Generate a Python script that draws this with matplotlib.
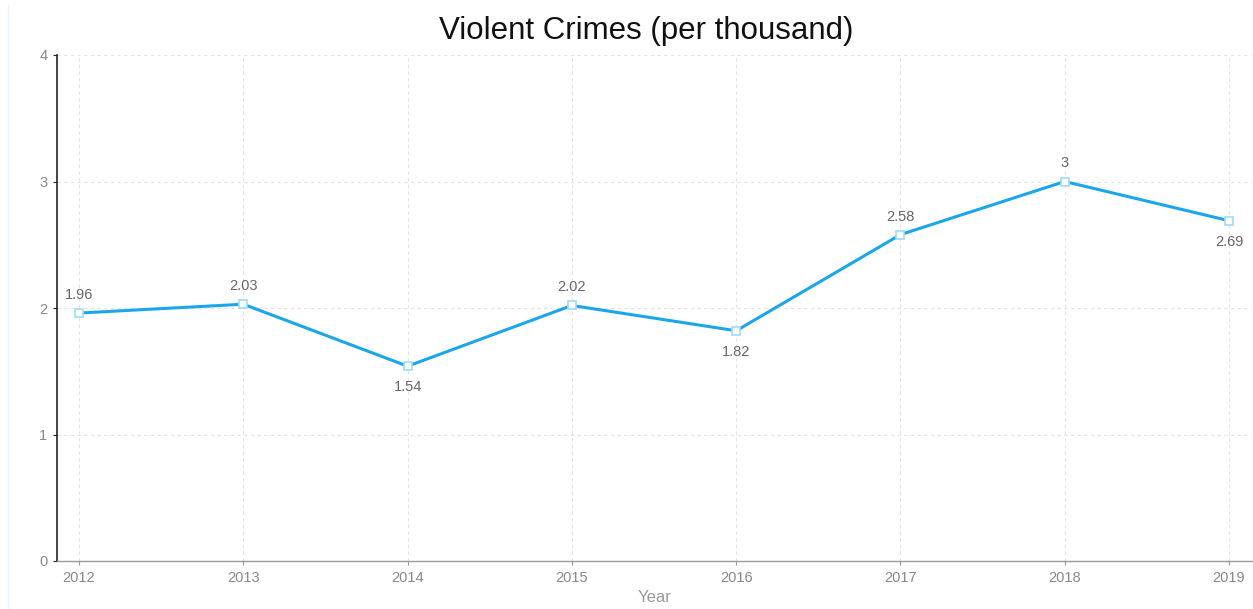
import matplotlib
matplotlib.use("Agg")
import matplotlib.pyplot as plt
from matplotlib.lines import Line2D

plt.rcParams['font.family'] = ['Liberation Sans', 'DejaVu Sans']

years = [2012, 2013, 2014, 2015, 2016, 2017, 2018, 2019]
values = [1.96, 2.03, 1.54, 2.02, 1.82, 2.58, 3.0, 2.69]
labels = ["1.96", "2.03", "1.54", "2.02", "1.82", "2.58", "3", "2.69"]
label_pos = ["above", "above", "below", "above", "below", "above", "above", "below"]
yticks = [0, 1, 2, 3, 4]

fig = plt.figure(figsize=(12.53, 6.09), dpi=100)
ax = fig.add_axes([57/1253, 48/609, (1252-57)/1253, (561-55)/609])

ax.plot(years, values, color="#1ba6ec", lw=2.2, marker="s", ms=5.5,
        markerfacecolor="white", markeredgecolor="#9fdcf7", markeredgewidth=1.2, zorder=3)

for x, y, t, p in zip(years, values, labels, label_pos):
    off = 8 if p == "above" else -10
    ax.annotate(t, (x, y), xytext=(0, off), textcoords="offset points",
                ha="center", va="bottom" if p == "above" else "top",
                fontsize=10.5, color="#666666")

ax.set_xlim(2011.866, 2019.14)
ax.set_ylim(0, 4)
ax.set_xticks(years)
ax.set_xticklabels([str(y) for y in years])
ax.set_yticks(yticks)
ax.grid(True, color="#e3e3e3", linestyle=(0, (3, 3)), lw=0.8)
ax.set_axisbelow(True)

for s in ["top", "right"]:
    ax.spines[s].set_visible(False)
ax.spines["left"].set_color("#222222")
ax.spines["left"].set_linewidth(1.2)
ax.spines["bottom"].set_color("#999999")
ax.spines["bottom"].set_linewidth(1.0)

ax.tick_params(axis="both", colors="#888888", labelsize=10.5, length=3)
ax.tick_params(axis="y", color="#222222", pad=4)
ax.tick_params(axis="x", color="#999999", pad=4)

ax.set_xlabel("Year", fontsize=12, color="#999999", labelpad=4)

fig.text(646/1253, 1 - 31/609, "Violent Crimes (per thousand)", ha="center", va="center",
         fontsize=22.5, color="#111111")

fig.add_artist(Line2D([8/1253, 8/1253], [0, 1 - 5/609], transform=fig.transFigure,
                      color="#e6f3fa", lw=1))

fig.savefig("out.png", dpi=100)
